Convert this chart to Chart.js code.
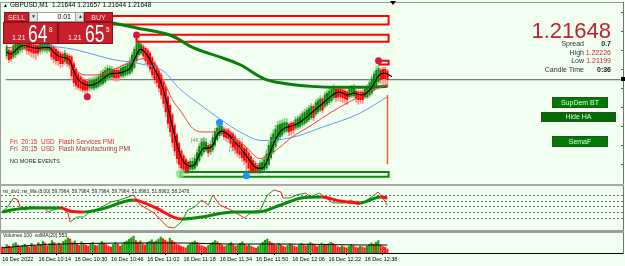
<!DOCTYPE html>
<html>
<head>
<meta charset="utf-8">
<script src="https://cdn.jsdelivr.net/npm/chart.js@4.4.0/dist/chart.umd.min.js"></script>
<style>
body{margin:0;width:625px;height:266px;background:#f0fff0;position:relative;overflow:hidden;font-family:'Liberation Sans',Arial,sans-serif}
canvas{position:absolute}
.a{position:absolute;white-space:pre;line-height:1}
.ln{position:absolute;background:#9a9a9a}
.red{background:#c8202a;border:1px solid #8c1016;box-sizing:border-box;color:#fff}
.btn{position:absolute;background:#007d00;border:1px solid #2e4a2e;box-sizing:border-box;color:#e6ffe6;font-size:7px;text-align:center}
.info{position:absolute;font-size:7px;line-height:8px;text-align:right;white-space:pre}
</style>
</head>
<body>
<canvas id="main" width="624" height="181" style="left:1px;top:3px"></canvas>
<canvas id="rsi" width="622" height="44" style="left:1px;top:186px"></canvas>
<canvas id="vol" width="622" height="33" style="left:1px;top:233px"></canvas>

<!-- window frame -->
<div class="ln" style="left:0;top:2px;width:624px;height:1px"></div>
<div class="ln" style="left:0;top:2px;width:1px;height:252px"></div>
<div class="ln" style="left:623px;top:2px;width:1px;height:252px;background:#707070"></div>
<div class="ln" style="left:0;top:184px;width:624px;height:2px;background:#a8a8a8"></div>
<div class="ln" style="left:0;top:230px;width:624px;height:3px;background:#9c9c9c"></div>
<div style="position:absolute;left:390px;top:1px;width:0;height:0;border-left:3px solid transparent;border-right:3px solid transparent;border-top:4px solid #000"></div>
<div style="position:absolute;left:621px;top:77px;width:4px;height:4px;background:#000"></div>

<div class="a" style="left:3px;top:3px;font-size:5px">&#9650;</div>
<div class="a" style="left:10px;top:2px;font-size:6.5px;color:#000">GBPUSD,M1  1.21644 1.21657 1.21644 1.21648</div>

<!-- one click trading panel -->
<div class="a red" style="left:4px;top:12px;width:25px;height:10px;font-size:7px;text-align:center;line-height:9px;color:#ffe4e4">SELL</div>
<div class="a" style="left:29px;top:12px;width:55px;height:10px;background:#e4e4e4;border:1px solid #a0a0a0;box-sizing:border-box"></div>
<div class="a" style="left:31px;top:14px;font-size:5px;color:#333">&#9660;</div>
<div class="a" style="left:37px;top:12px;width:39px;height:10px;background:#fff;border:1px solid #a0a0a0;box-sizing:border-box;font-size:7px;text-align:right;padding-right:4px;line-height:8px;color:#000">0.01</div>
<div class="a" style="left:78px;top:14px;font-size:5px;color:#333">&#9650;</div>
<div class="a red" style="left:84px;top:12px;width:29px;height:10px;font-size:7px;text-align:center;line-height:9px;color:#ffe4e4">BUY</div>
<div class="a red" style="left:3px;top:22px;width:55px;height:22px">
  <span class="a" style="left:8px;top:11px;font-size:7px">1.21</span>
  <span class="a" style="left:24px;top:0px;font-size:23px;line-height:23px;transform:scaleX(0.76);transform-origin:0 0">64</span>
  <span class="a" style="left:45px;top:4px;font-size:6.5px">8</span>
</div>
<div class="a red" style="left:58px;top:22px;width:55px;height:22px">
  <span class="a" style="left:9px;top:11px;font-size:7px">1.21</span>
  <span class="a" style="left:26px;top:0px;font-size:23px;line-height:23px;transform:scaleX(0.76);transform-origin:0 0">65</span>
  <span class="a" style="left:47px;top:4px;font-size:6.5px">5</span>
</div>

<!-- info block -->
<div class="a" style="right:14px;top:20px;font-size:22px;line-height:22px;color:#c0222e">1.21648</div>
<div class="info" style="right:41px;top:40px;color:#333">Spread</div>
<div class="info" style="right:14px;top:40px;color:#222;font-weight:bold">0.7</div>
<div class="info" style="right:41px;top:48.5px;color:#333">High</div>
<div class="info" style="right:14px;top:48.5px;color:#d42030">1.22226</div>
<div class="info" style="right:41px;top:57px;color:#333">Low</div>
<div class="info" style="right:14px;top:57px;color:#d42030">1.21199</div>
<div class="info" style="right:41px;top:66px;color:#333">Candle Time</div>
<div class="info" style="right:14px;top:66px;color:#222;font-weight:bold">0:36</div>

<div class="btn" style="left:552px;top:97px;width:56px;height:11px;line-height:9px">SupDem BT</div>
<div class="btn" style="left:541px;top:112px;width:75px;height:10px;line-height:8px;background:#006e00">Hide HA</div>
<div class="btn" style="left:552px;top:136px;width:56px;height:11px;line-height:9px">SemaF</div>

<!-- news events -->
<div class="a" style="left:10px;top:138.5px;font-size:6.5px;color:#e8262a">Fri  20:15  USD  Flash Services PMI</div>
<div class="a" style="left:10px;top:146px;font-size:6.5px;color:#a83434">Fri  20:15  USD  Flash Manufacturing PMI</div>
<div class="a" style="left:10px;top:159px;font-size:5.5px;color:#222">NO MORE EVENTS</div>

<div class="a" style="left:191px;top:138px;font-size:5.5px;color:#8a8a6a">[46.6]</div>
<div class="a" style="left:229px;top:138px;font-size:5.5px;color:#8a8a6a">[46.1]</div>
<div class="a" style="left:229px;top:147px;font-size:5.5px;color:#8a8a6a">[14.6]</div>

<div class="a" style="left:3px;top:190px;font-size:4.8px;color:#222">rsi_div1; rsi_Ma (8,00) 59.7964, 59.7964, 59.7964, 59.7964, 51.8963, 51.8963, 58.2478.</div>
<div class="a" style="left:3px;top:233px;font-size:5px;color:#222">Volumes 100  volMA(20) 553</div>

<script>
// GBPUSD M1, bars from 09:58 (index 0) to 12:48 (index 170)
// prices in points above 1.20000 (1648 = 1.21648)
const opens = [
1773,1803,1798,1768,1778,1788,1803,1808,1813,1843,
1843,1838,1833,1828,1828,1798,1803,1803,1803,1803,
1828,1818,1808,1798,1788,1783,1743,1778,1773,1768,
1733,1703,1678,1663,1648,1643,1638,1603,1603,1603,
1608,1613,1623,1628,1638,1653,1658,1663,1698,1698,
1698,1668,1668,1673,1678,1683,1693,1713,1748,1778,
1788,1823,1813,1803,1788,1763,1738,1718,1693,1673,
1638,1608,1558,1513,1463,1408,1358,1313,1273,1248,
1228,1213,1178,1178,1183,1198,1223,1248,1268,1278,
1303,1268,1278,1303,1333,1353,1363,1388,1383,1383,
1368,1363,1348,1328,1318,1308,1288,1283,1263,1243,
1223,1208,1198,1168,1173,1173,1183,1203,1238,1268,
1298,1328,1348,1358,1373,1378,1413,1418,1423,1393,
1398,1403,1413,1418,1428,1438,1448,1508,1468,1478,
1488,1548,1508,1518,1528,1538,1553,1598,1598,1598,
1593,1588,1583,1558,1563,1563,1588,1583,1583,1583,
1558,1558,1568,1578,1598,1618,1638,1698,1703,1703,
1693];
const highs = [
1838,1818,1808,1843,1853,1863,1873,1868,1868,1853,
1858,1848,1843,1838,1843,1853,1858,1858,1863,1858,
1838,1828,1818,1808,1798,1793,1803,1788,1783,1778,
1743,1713,1688,1673,1658,1653,1648,1658,1658,1663,
1668,1678,1693,1703,1713,1723,1723,1718,1708,1708,
1713,1723,1728,1733,1743,1763,1793,1823,1868,1858,
1848,1833,1823,1813,1798,1773,1748,1728,1703,1683,
1648,1618,1568,1523,1473,1418,1368,1323,1283,1258,
1238,1223,1233,1238,1253,1283,1313,1338,1343,1338,
1313,1328,1363,1393,1408,1418,1413,1398,1393,1393,
1378,1373,1358,1338,1328,1318,1298,1293,1273,1253,
1233,1218,1208,1223,1233,1248,1278,1323,1363,1383,
1408,1428,1433,1438,1443,1443,1423,1428,1433,1453,
1458,1468,1483,1493,1503,1513,1523,1518,1543,1553,
1563,1558,1583,1593,1603,1613,1623,1608,1608,1613,
1603,1598,1593,1613,1618,1623,1598,1593,1593,1598,
1613,1623,1648,1668,1693,1718,1733,1708,1713,1713,
1703];
const lows = [
1758,1738,1743,1758,1763,1778,1788,1793,1803,1783,
1778,1768,1763,1753,1773,1783,1788,1793,1788,1793,
1753,1738,1728,1723,1713,1718,1728,1718,1708,1648,
1613,1598,1593,1588,1583,1578,1578,1588,1593,1593,
1598,1603,1613,1618,1628,1643,1648,1653,1643,1638,
1643,1658,1658,1663,1668,1673,1683,1703,1738,1768,
1778,1758,1733,1713,1688,1658,1628,1613,1583,1548,
1503,1453,1393,1348,1293,1248,1208,1183,1168,1158,
1153,1153,1163,1163,1173,1188,1213,1238,1258,1268,
1243,1253,1268,1293,1323,1343,1353,1333,1323,1318,
1293,1273,1258,1243,1233,1218,1203,1158,1163,1153,
1153,1153,1153,1153,1158,1163,1173,1193,1228,1258,
1288,1318,1338,1348,1363,1368,1353,1358,1363,1383,
1388,1393,1403,1408,1418,1428,1438,1433,1458,1468,
1478,1473,1498,1508,1518,1528,1543,1533,1538,1533,
1528,1523,1518,1548,1553,1553,1528,1518,1523,1523,
1548,1548,1558,1568,1588,1608,1628,1628,1623,1618,
1613];
const closes = [
1823,1753,1758,1828,1838,1848,1858,1853,1853,1803,
1798,1793,1788,1788,1788,1838,1843,1843,1843,1843,
1768,1758,1748,1748,1733,1733,1788,1733,1728,1668,
1633,1618,1608,1603,1593,1593,1593,1643,1643,1648,
1653,1663,1678,1688,1698,1708,1708,1703,1658,1658,
1658,1708,1713,1718,1728,1748,1778,1808,1838,1843,
1833,1773,1748,1728,1703,1673,1648,1633,1603,1568,
1523,1478,1418,1373,1318,1273,1233,1203,1183,1173,
1168,1163,1218,1218,1233,1263,1298,1318,1323,1318,
1263,1308,1343,1373,1393,1403,1403,1348,1343,1338,
1313,1293,1278,1263,1253,1238,1223,1213,1183,1168,
1168,1163,1163,1208,1213,1228,1258,1303,1343,1363,
1388,1408,1413,1418,1423,1423,1373,1378,1383,1438,
1443,1453,1468,1478,1488,1498,1508,1448,1528,1538,
1548,1488,1568,1578,1588,1598,1608,1553,1558,1558,
1553,1548,1543,1598,1603,1603,1548,1543,1543,1543,
1598,1608,1633,1653,1678,1698,1708,1648,1653,1653,
1648];
const volumes = [
300,260,420,350,280,460,520,400,330,380,
440,340,300,480,380,340,520,420,580,500,
360,460,620,520,400,500,420,580,660,760,
700,520,600,440,380,560,480,400,340,460,
540,380,360,480,580,500,420,340,300,420,
520,440,340,420,540,600,680,760,840,620,
520,600,460,400,520,580,660,540,600,700,
800,720,640,560,740,620,540,440,400,340,
300,260,380,460,540,600,520,420,360,320,
280,380,480,540,620,560,460,400,320,380,
460,520,420,340,400,480,560,440,360,420,
340,280,240,320,420,540,640,700,580,500,
440,380,480,420,340,300,380,460,400,340,
300,400,480,420,360,440,520,460,380,320,
420,500,440,380,460,540,480,400,320,280,
360,300,260,340,420,360,300,260,340,300,
260,340,420,500,440,540,620,400,320,280,
200];

// indicator lines, [bar index, value]
const maBlack = [[0,1793],[2,1783],[4,1803],[6,1823],[8,1828],[11,1818],[14,1813],[17,1818],[19,1818],[21,1793],[24,1768],[28,1753],[30,1693],[32,1648],[34,1628],[37,1618],[40,1628],[43,1653],[46,1678],[50,1683],[53,1693],[55,1708],[57,1753],[59,1803],[60,1808],[62,1788],[64,1753],[66,1703],[68,1658],[70,1593],[72,1503],[74,1403],[76,1308],[78,1238],[80,1203],[82,1193],[84,1203],[86,1253],[88,1288],[90,1288],[92,1303],[94,1358],[96,1378],[98,1368],[100,1348],[102,1318],[104,1293],[106,1263],[108,1233],[110,1198],[112,1183],[114,1183],[116,1213],[118,1278],[120,1333],[122,1373],[124,1393],[127,1403],[130,1418],[133,1443],[136,1473],[139,1503],[142,1533],[145,1563],[148,1583],[150,1578],[152,1568],[155,1578],[158,1568],[160,1573],[162,1593],[164,1628],[166,1668],[168,1683],[170,1678],[172,1663]];
const maRed = [[0,1818],[8,1813],[17,1808],[24,1768],[30,1703],[35,1673],[39,1673],[44,1683],[48,1703],[52,1723],[58,1753],[61,1758],[66,1733],[70,1643],[74,1543],[78,1478],[83,1393],[88,1373],[91,1373],[98,1378],[103,1333],[107,1293],[113,1233],[118,1258],[123,1303],[127,1343],[136,1408],[145,1478],[154,1538],[163,1588],[170,1623]];
const maBlue = [[17,1828],[30,1808],[35,1793],[48,1753],[59,1733],[70,1693],[77,1603],[88,1503],[95,1443],[105,1368],[114,1328],[127,1343],[142,1403],[157,1468],[170,1558]];
const maGreen = [[40,1958],[49,1943],[59,1918],[66,1903],[74,1878],[83,1818],[95,1768],[104,1728],[115,1653],[124,1628],[136,1613],[148,1608],[160,1608],[170,1613]];
const bidPrice = 1648;
const priceTicks = [1200,1300,1400,1500,1600,1700,1800,1900,2000];

// supply / demand zones: [from bar, to bar, upper price, lower price]
const supplyZones = [[45,170.5,1983,1938],[58,170.5,1885,1848],[166.5,170.5,1748,1728]];
const demandZones = [[77.5,170.5,1163,1138]];
const semaHigh = [[58,1883],[36,1558],[166,1748]];
const semaLow = [[95,1423],[107,1143]];
const semaMinor = [[77.5,1153]];
const rangeLine = [[170,1568],[170,1203]];

// rsi panel
const rsiLine = [[0,39.6],[3,53.5],[5,65.7],[7,62.2],[8,48.3],[10,44.8],[13,50],[19,48.3],[20,41.3],[26,50],[29,39.6],[30,23.9],[33,32.6],[36,32.6],[38,39.6],[44,50],[48,58.7],[52,62.2],[58,70.9],[61,53.5],[67,39.6],[70,27.4],[73,15.2],[76,13.5],[79,23.9],[82,44.8],[85,50],[88,62.2],[91,53.5],[93,70.9],[96,53.5],[101,44.8],[107,30.9],[110,41.3],[114,44.8],[117,70.9],[120,79.6],[123,76.1],[124,65.7],[127,65.7],[130,70.9],[134,74.3],[136,67.4],[140,74.3],[143,65.7],[146,57],[151,57],[154,62.2],[157,53.5],[159,57],[163,67.4],[166,76.1],[168,65.7],[170,53.5]];
const rsiMa = [[0,41.3],[4,44.8],[13,48.3],[26,48.3],[30,43],[36,41.3],[44,46.5],[58,62.2],[67,50],[79,29.1],[88,32.6],[102,41.3],[113,41.3],[123,53.5],[132,65.7],[141,67.4],[149,60.4],[158,57],[167,67.4],[170,65.7]];
const rsiLevels = [30,40,50,60,70];

const volMa = [[0,260],[8,340],[20,430],[40,480],[60,500],[80,500],[100,450],[120,450],[140,430],[160,400],[170,400]];

const tickIdx = [0,16,32,48,64,80,96,112,128,144,160];
const tickLabels = ['16 Dec 2022','16 Dec 10:14','16 Dec 10:30','16 Dec 10:46','16 Dec 11:02','16 Dec 11:18','16 Dec 11:34','16 Dec 11:50','16 Dec 12:06','16 Dec 12:22','16 Dec 12:38'];

const UP = '#078a07', DOWN = '#ff0000', UP_W = '#7ccc7c', DOWN_W = '#ff8e8e';
const X_MIN = -0.5, X_MAX = 274;

const pts = a => a.map(p => ({x: p[0], y: p[1]}));
const box = r => [{x:r[0],y:r[2]},{x:r[1],y:r[2]},{x:r[1],y:r[3]},{x:r[0],y:r[3]},{x:r[0],y:r[2]}];
const idx = opens.map((_, i) => i);

function lineSet(data, color, width, order, extra) {
    return Object.assign({
        type: 'line', data: data, borderColor: color, borderWidth: width,
        pointRadius: 0, fill: false, order: order
    }, extra || {});
}
function dotSet(data, color, r, order) {
    return {type: 'line', data: pts(data), showLine: false, pointRadius: r,
        pointBackgroundColor: color, pointBorderWidth: 0, order: order};
}

const base = {
    responsive: false, animation: false, devicePixelRatio: 1, events: [],
    layout: {padding: 0},
    plugins: {legend: {display: false}, tooltip: {enabled: false}}
};
const smooth = {cubicInterpolationMode: 'monotone'};

// main price chart
const mainSets = [
    dotSet(semaHigh, '#dc143c', 3.5, 0),
    dotSet(semaLow, '#1e90ff', 3.5, 0),
    dotSet(semaMinor, 'rgba(130,230,130,0.75)', 4.5, 1),
    lineSet(pts(rangeLine), '#ff5a1e', 1.5, 2),
    lineSet(pts(maBlack), '#000000', 1.2, 3, smooth),
    lineSet(pts(maRed), '#ff3a3a', 1, 4, smooth),
    lineSet(pts(maBlue), '#6a96ee', 1, 5, smooth),
    lineSet(pts(maGreen), '#0a7d0a', 3, 6, smooth)
];
supplyZones.forEach(z => mainSets.push(lineSet(box(z), '#ff0000', 2, 7)));
demandZones.forEach(z => mainSets.push(lineSet(box(z), '#0a8a0a', 2, 7)));
mainSets.push({
    type: 'bar', order: 10, grouped: false, categoryPercentage: 1, barPercentage: 1, maxBarThickness: 1.4,
    data: idx.map(i => ({x: i, y: [opens[i], closes[i]]})),
    backgroundColor: idx.map(i => closes[i] >= opens[i] ? UP : DOWN)
});
mainSets.push({
    type: 'bar', order: 11, grouped: false, categoryPercentage: 1, barPercentage: 1, maxBarThickness: 1,
    data: idx.map(i => ({x: i, y: [lows[i], highs[i]]})),
    backgroundColor: idx.map(i => closes[i] >= opens[i] ? UP_W : DOWN_W)
});
mainSets.push(lineSet([{x: X_MIN, y: bidPrice}, {x: X_MAX, y: bidPrice}], '#555555', 1, 12));

new Chart(document.getElementById('main'), {
    type: 'bar',
    data: {datasets: mainSets},
    options: Object.assign({}, base, {
        scales: {
            x: {type: 'linear', min: X_MIN, max: X_MAX, display: false, offset: false},
            y: {type: 'linear', min: 1123, max: 2028, position: 'right',
                ticks: {display: false},
                grid: {drawOnChartArea: false, tickLength: 3, color: '#606060'},
                border: {display: false},
                afterBuildTicks: s => { s.ticks = priceTicks.map(v => ({value: v})); },
                afterFit: s => { s.width = 2; }}
        }
    })
});

// rsi panel, segments coloured by direction
const dirColor = (up, down) => ({borderColor: c => c.p1.parsed.y >= c.p0.parsed.y ? up : down});
new Chart(document.getElementById('rsi'), {
    type: 'line',
    data: {datasets: [
        lineSet(pts(rsiMa), '#0a8a0a', 3, 0, Object.assign({segment: dirColor('#0a8a0a', '#ff1010')}, smooth)),
        lineSet(pts(rsiLine), '#1a9a1a', 1, 1, {tension: 0, segment: dirColor('#1a9a1a', '#ff2020')})
    ]},
    options: Object.assign({}, base, {
        scales: {
            x: {type: 'linear', min: X_MIN, max: X_MAX, display: false},
            y: {min: 10, max: 86.5, position: 'right',
                ticks: {display: false},
                grid: {drawTicks: false, color: '#6a6a6a', lineWidth: 1},
                border: {display: false, dash: [2, 2]},
                afterBuildTicks: s => { s.ticks = rsiLevels.map(v => ({value: v})); },
                afterFit: s => { s.width = 0; }}
        }
    })
});

// volumes panel
new Chart(document.getElementById('vol'), {
    type: 'bar',
    data: {datasets: [
        lineSet(pts(volMa), '#000000', 1, 0, smooth),
        {type: 'bar', order: 1, grouped: false, categoryPercentage: 1, barPercentage: 1, maxBarThickness: 1.5,
         data: idx.map(i => ({x: i, y: volumes[i]})),
         backgroundColor: idx.map(i => i > 0 && volumes[i] > volumes[i - 1] ? '#12a012' : '#ff1e1e')}
    ]},
    options: Object.assign({}, base, {
        scales: {
            x: {type: 'linear', min: X_MIN, max: X_MAX, offset: false, position: 'bottom',
                afterBuildTicks: s => { s.ticks = tickIdx.map(v => ({value: v})); },
                afterFit: s => { s.height = 13; },
                ticks: {callback: (v, i) => tickLabels[i], align: 'start', autoSkip: false, maxRotation: 0,
                        padding: 1, color: '#000', font: {family: 'Liberation Sans', size: 5.5}},
                grid: {drawOnChartArea: false, drawTicks: true, tickLength: 2, color: '#000'},
                border: {display: true, color: '#000'}},
            y: {min: 0, max: 1000, display: false}
        }
    })
});
</script>
</body>
</html>
